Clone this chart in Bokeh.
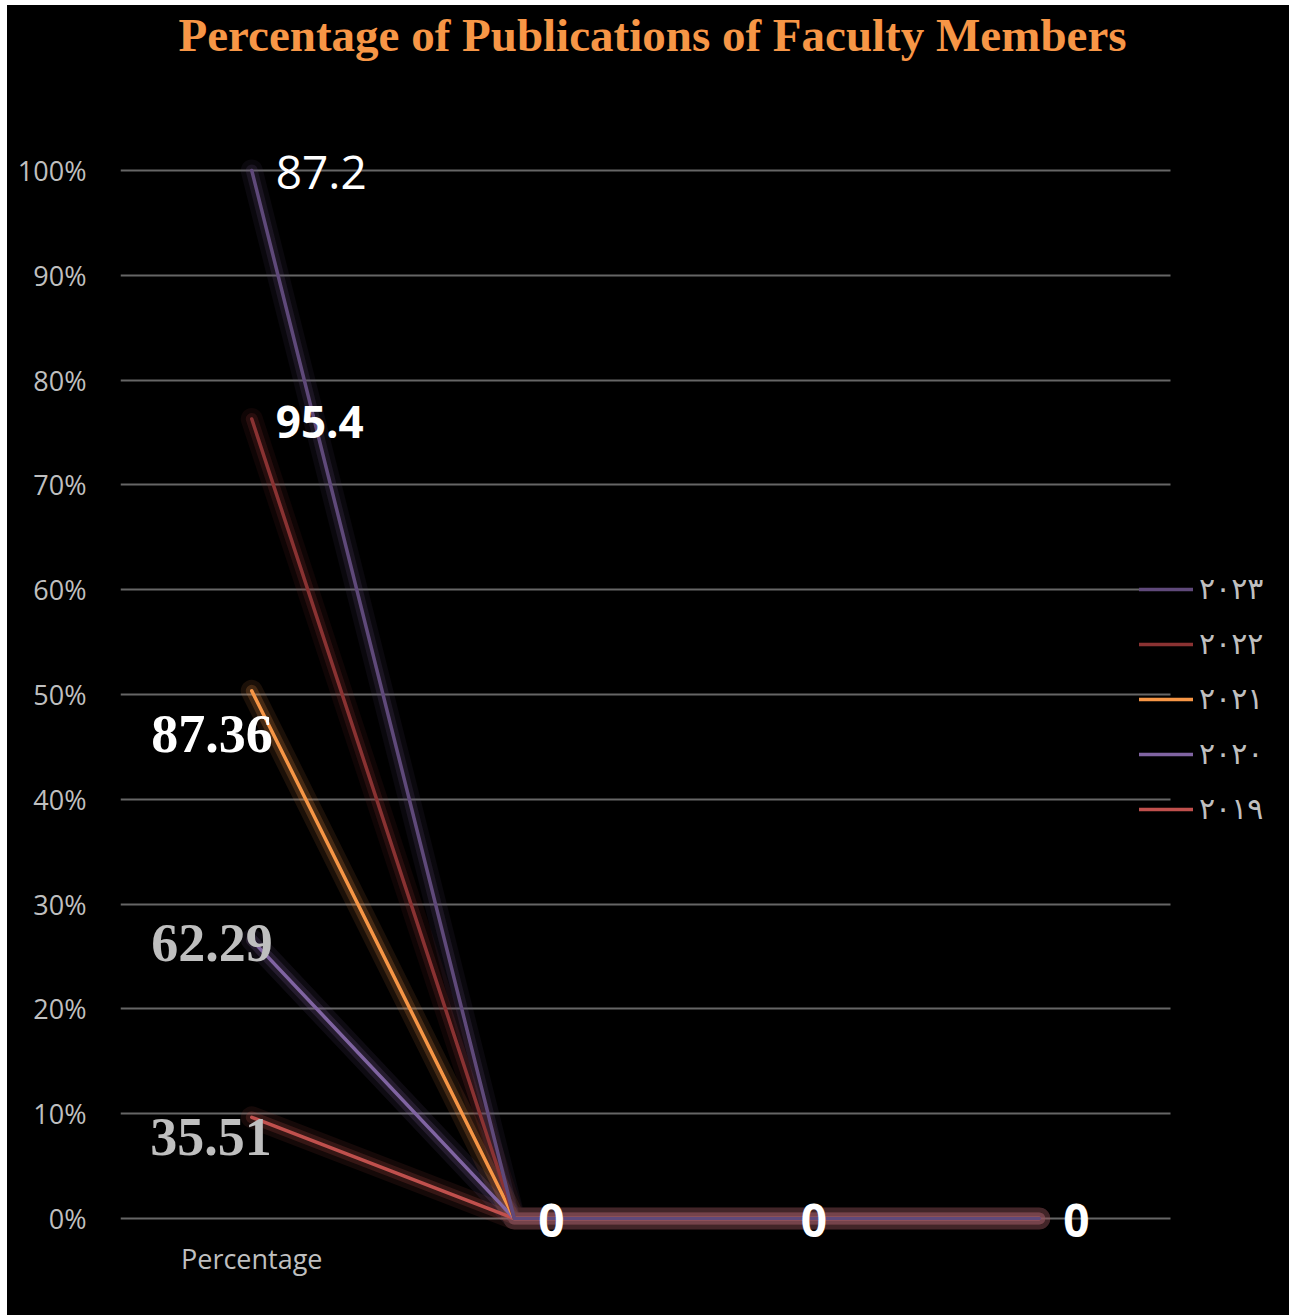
from bokeh.plotting import figure
from bokeh.models import (ColumnDataSource, Range1d, Legend, LegendItem, Label,
                          FixedTicker, PrintfTickFormatter)
from bokeh.core.properties import value
from bokeh.embed import file_html
from bokeh.resources import INLINE

# ---------------- data ----------------
title_text = "Percentage of Publications of Faculty Members"
categories = ["Percentage", "", "", ""]
series_names = ["٢٠١٩", "٢٠٢٠", "٢٠٢١", "٢٠٢٢", "٢٠٢٣"]
values_2019 = [35.51, 0, 0, 0]
values_2020 = [62.29, 0, 0, 0]
values_2021 = [87.36, 0, 0, 0]
values_2022 = [95.4, 0, 0, 0]
values_2023 = [87.2, 0, 0, 0]
y_ticks = [0, 10, 20, 30, 40, 50, 60, 70, 80, 90, 100]

series_values = [values_2019, values_2020, values_2021, values_2022, values_2023]

# ---------------- styles ----------------
colors = ["#C0504D", "#8064A2", "#F79646", "#8A3232", "#5F497A"]

# category slots (centre of each slot) and 100% stacked transform
n = len(categories)
xpos = [i + 0.5 for i in range(n)]
totals = [sum(s[i] for s in series_values) for i in range(n)]
stacked = []
running = [0.0] * n
for s in series_values:
    running = [r + v for r, v in zip(running, s)]
    stacked.append([(r / t * 100 if t else 0.0) for r, t in zip(running, totals)])

p = figure(width=1282, height=1310,
           x_range=Range1d(0, 4.453),
           y_range=Range1d(-2.0, 115.74),
           output_backend="svg", toolbar_location=None,
           background_fill_color="black", border_fill_color="black",
           min_border_left=113, min_border_right=0,
           min_border_top=0, min_border_bottom=76)
p.styles = {"margin-left": "7px", "margin-top": "5px", "background-color": "black"}
p.outline_line_color = None

# glow layers
for k, s in enumerate(stacked):
    src = ColumnDataSource(dict(x=xpos, y=s))
    p.line("x", "y", source=src, line_color=colors[k], line_width=22, line_alpha=0.11,
           line_cap="round", line_join="round")
    p.line("x", "y", source=src, line_color=colors[k], line_width=12, line_alpha=0.2,
           line_cap="round", line_join="round")

main = []
for k, s in enumerate(stacked):
    src = ColumnDataSource(dict(x=xpos, y=s))
    r = p.line("x", "y", source=src, line_color=colors[k], line_width=3.5,
               line_cap="round", line_join="round")
    main.append(r)

# data labels at first category
lab = ColumnDataSource(dict(
    x=[xpos[0]] * len(series_values),
    y=[s[0] for s in stacked],
    text=[f"{s[0]:g}" for s in series_values],
    xo=[20, 21, 21, 24, 24],
    yo=[20, 3, 43, 3, 2],
    align=["right", "right", "right", "left", "left"],
    font=["Liberation Serif", "Liberation Serif", "Liberation Serif", "Open Sans", "Open Sans"],
    style=["bold", "bold", "bold", "bold", "normal"],
    size=["54px", "54px", "54px", "44px", "46px"],
    color=["#bfbfbf", "#bfbfbf", "#ffffff", "#ffffff", "#ffffff"],
))
p.text("x", "y", text="text", source=lab, x_offset="xo", y_offset="yo",
       text_align="align", text_baseline="middle", text_font="font",
       text_font_style="style", text_font_size="size", text_color="color")

zero = ColumnDataSource(dict(
    x=xpos[1:],
    y=stacked[-1][1:],
    text=[f"{v:g}" for v in series_values[-1][1:]],
))
p.text("x", "y", text="text", source=zero, x_offset=37, y_offset=2,
       text_align="center", text_baseline="middle", text_font=value("Open Sans"),
       text_font_style="bold", text_font_size="46px", text_color="#ffffff")

# title
p.add_layout(Label(x=532, y=1205, x_units="screen", y_units="screen", text=title_text,
                   text_align="center", text_baseline="alphabetic",
                   text_color="#F79646", text_font="Liberation Serif",
                   text_font_style="bold", text_font_size="47px"))

# axes
p.yaxis.ticker = FixedTicker(ticks=y_ticks)
p.yaxis.formatter = PrintfTickFormatter(format="%d%%")
p.xaxis.ticker = FixedTicker(ticks=xpos)
p.xaxis.major_label_overrides = {x: c for x, c in zip(xpos, categories)}
for ax in (p.xaxis, p.yaxis):
    ax.axis_line_color = None
    ax.major_tick_line_color = None
    ax.minor_tick_line_color = None
    ax.major_label_text_color = "#bfbfbf"
    ax.major_label_text_font = "Open Sans"
    ax.major_label_text_font_size = "27px"
p.yaxis.major_label_standoff = 28
p.xaxis.major_label_standoff = -6

p.xgrid.grid_line_color = None
p.ygrid.grid_line_color = "#666666"
p.ygrid.grid_line_width = 2
p.ygrid.cross_bounds = (0, n)

legend = Legend(
    items=[LegendItem(label=series_names[k], renderers=[main[k]]) for k in reversed(range(len(main)))],
    location=(1019, 413), orientation="vertical",
    glyph_width=54, glyph_height=30, label_height=30, spacing=20, label_standoff=6,
    padding=0, margin=0, background_fill_alpha=0, border_line_alpha=0,
    label_text_color="#bfbfbf", label_text_font_size="30px", label_text_font="DejaVu Sans")
p.add_layout(legend, "center")

open("out.html", "w").write(file_html(p, INLINE))
